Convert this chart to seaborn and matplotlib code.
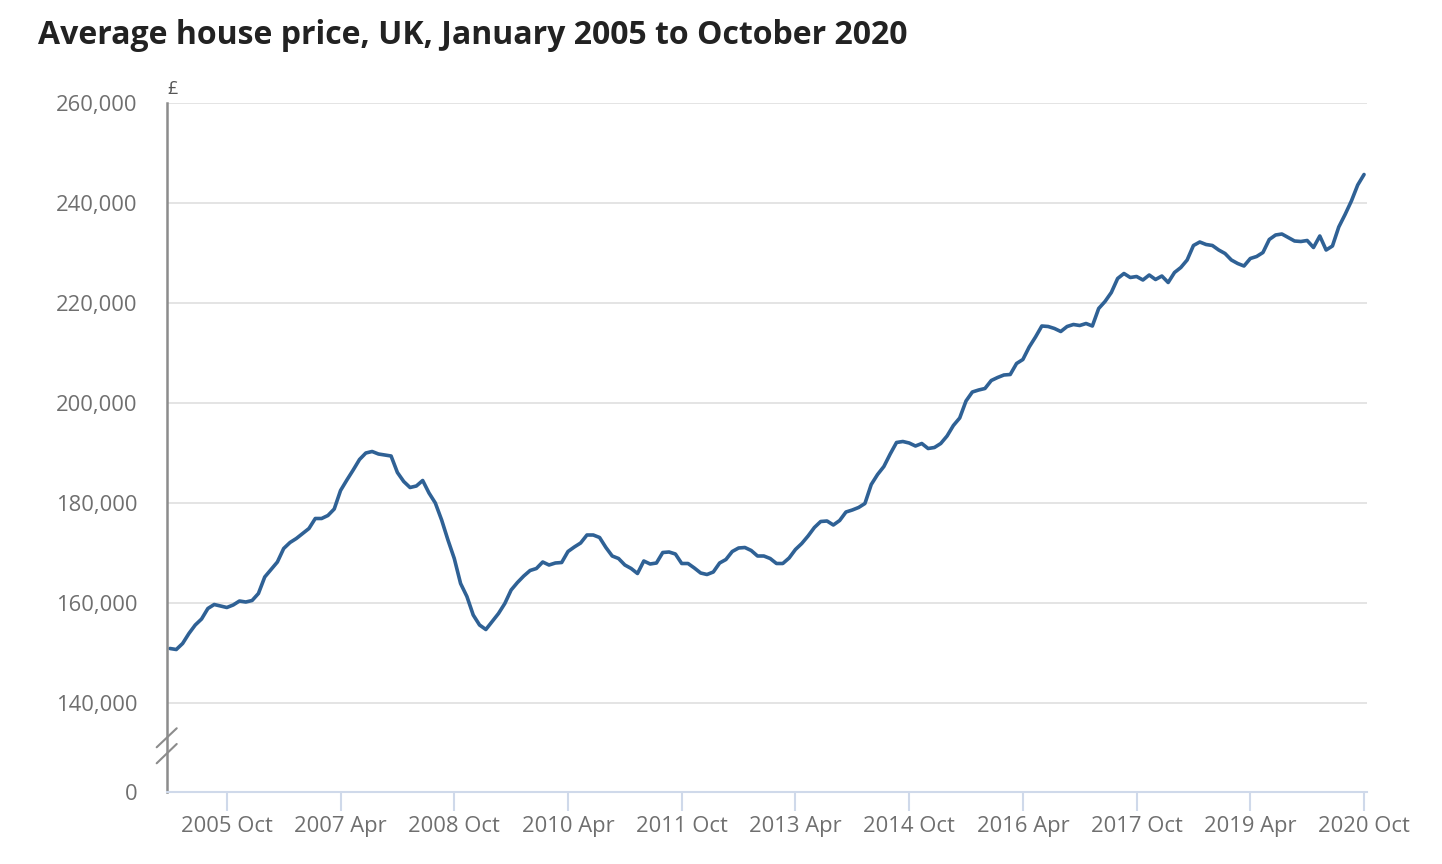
import seaborn as sns
import matplotlib.pyplot as plt
import pandas as pd
import numpy as np

# average UK house price (GBP), monthly Jan 2005 .. Oct 2020
prices = [
    150900, 150700, 151900, 153900, 155600, 156800, 158900, 159700, 159400, 159100,
    159600, 160400, 160200, 160500, 161900, 165200, 166700, 168200, 170900, 172100,
    172900, 173900, 174900, 176900, 176900, 177500, 178800, 182500, 184600, 186600,
    188700, 190000, 190300, 189800, 189600, 189400, 186100, 184300, 183100, 183400,
    184500, 182000, 180000, 176600, 172600, 168900, 163900, 161300, 157600, 155600,
    154700, 156300, 157900, 159900, 162600, 164100, 165400, 166500, 166900, 168200,
    167600, 168000, 168100, 170300, 171200, 172000, 173600, 173600, 173100, 171100,
    169400, 168900, 167600, 166900, 165900, 168400, 167800, 168000, 170100, 170200,
    169800, 167900, 167900, 167000, 166000, 165700, 166200, 168000, 168700, 170300,
    171000, 171100, 170500, 169400, 169400, 168900, 167900, 167900, 169000, 170700,
    171900, 173400, 175100, 176300, 176400, 175600, 176500, 178200, 178600, 179100,
    179900, 183700, 185700, 187300, 189800, 192100, 192300, 192000, 191400, 191900,
    190900, 191100, 191900, 193400, 195500, 197000, 200400, 202200, 202600, 202900,
    204500, 205100, 205600, 205700, 207900, 208700, 211200, 213200, 215400, 215300,
    214900, 214300, 215300, 215700, 215500, 215900, 215400, 218900, 220300, 222100,
    224900, 225900, 225100, 225300, 224600, 225600, 224700, 225400, 224100, 226100,
    227100, 228600, 231500, 232200, 231700, 231500, 230600, 229900, 228600, 227900,
    227400, 228900, 229300, 230100, 232700, 233600, 233800, 233100, 232400, 232300,
    232500, 231100, 233400, 230600, 231400, 235200, 237700, 240400, 243600, 245700,
]
months = pd.period_range("2005-01", "2020-10", freq="M")
tick_labels = ["2005 Oct", "2007 Apr", "2008 Oct", "2010 Apr", "2011 Oct", "2013 Apr",
               "2014 Oct", "2016 Apr", "2017 Oct", "2019 Apr", "2020 Oct"]
y_ticks = [140000, 160000, 180000, 200000, 220000, 240000, 260000]

df = pd.DataFrame({"month": np.arange(len(months)), "price": prices})

sns.set_theme(style="white")
plt.rcParams["font.family"] = ["Open Sans", "DejaVu Sans"]

fig = plt.figure(figsize=(14.42, 8.64), dpi=100)
ax = fig.add_axes([167 / 1442, 72 / 864, 1200 / 1442, 689 / 864])

sns.lineplot(data=df, x="month", y="price", color="#2f6195", linewidth=2.6, ax=ax)

# broken axis: bottom of the axes stands for 0
zero_pos = 122200
ax.set_ylim(zero_pos, 260000)
ax.set_yticks([zero_pos] + y_ticks)
ax.set_yticklabels(["0"] + [f"{v:,}" for v in y_ticks])
ax.set_xlim(-0.47, len(months) - 1 + 0.47)
pos = [i for i, p in enumerate(months) if f"{p.year} {p.strftime('%b')}" in tick_labels]
ax.set_xticks(pos)
ax.set_xticklabels([f"{months[i].year} {months[i].strftime('%b')}" for i in pos])

for v in y_ticks:
    ax.axhline(v, color="#e2e2e2", linewidth=1.3, zorder=0)

ax.set_xlabel("")
ax.set_ylabel("")
for s in ["top", "right"]:
    ax.spines[s].set_visible(False)
ax.spines["left"].set_color("#8c8c8c")
ax.spines["left"].set_linewidth(1.8)
ax.spines["bottom"].set_color("#cfd9ea")
ax.spines["bottom"].set_linewidth(1.5)
ax.tick_params(axis="y", length=0, pad=21, labelsize=15.8, labelcolor="#6f6f6f")
ax.tick_params(axis="x", bottom=True, length=14, width=1.5, color="#cfd9ea",
               pad=3, labelsize=15.8, labelcolor="#6f6f6f")

# break marks on the y axis
for y0, y1 in [(0.0649, 0.0925), (0.0417, 0.0697)]:
    ax.plot([-0.0086, 0.0081], [y0, y1], transform=ax.transAxes, color="#8c8c8c",
            linewidth=1.5, clip_on=False)

fig.text(167 / 1442, 1 - 89 / 864, "£", fontsize=13, color="#555555", va="center")
fig.text(38 / 1442, 1 - 36 / 864, "Average house price, UK, January 2005 to October 2020",
         fontsize=23, fontweight="bold", color="#222222", va="center")

fig.savefig("out.png", dpi=100)
